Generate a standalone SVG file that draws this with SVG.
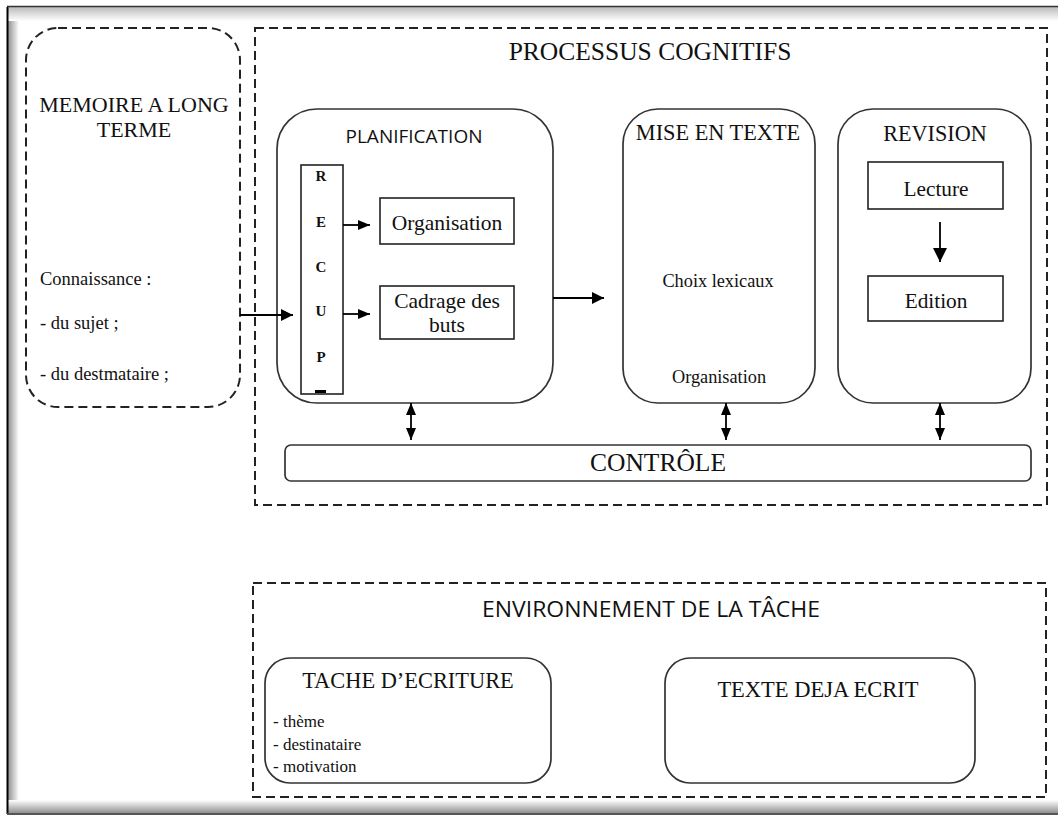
<svg xmlns="http://www.w3.org/2000/svg" width="1058" height="817" viewBox="0 0 1058 817">
<defs>
<linearGradient id="gl" x1="0" x2="1" y1="0" y2="0"><stop offset="0" stop-color="#888"/><stop offset="1" stop-color="#fff"/></linearGradient>
<linearGradient id="gt" x1="0" x2="0" y1="0" y2="1"><stop offset="0" stop-color="#bbb"/><stop offset="1" stop-color="#fff"/></linearGradient>
<linearGradient id="gb" x1="0" x2="0" y1="1" y2="0"><stop offset="0" stop-color="#888"/><stop offset="1" stop-color="#fff"/></linearGradient>
<marker id="ah" viewBox="0 0 12 12" refX="12" refY="6" markerWidth="13" markerHeight="12" markerUnits="userSpaceOnUse" orient="auto-start-reverse"><path d="M0,0 L12,6 L0,12 z" fill="#000"/></marker>
<marker id="ah2" viewBox="0 0 12 10" refX="12" refY="5" markerWidth="12" markerHeight="10" markerUnits="userSpaceOnUse" orient="auto-start-reverse"><path d="M0,0 L12,5 L0,10 z" fill="#000"/></marker>
<marker id="ah3" viewBox="0 0 14 14" refX="14" refY="7" markerWidth="15" markerHeight="14" markerUnits="userSpaceOnUse" orient="auto-start-reverse"><path d="M0,0 L14,7 L0,14 z" fill="#000"/></marker>
</defs>
<style>
.serif{font-family:'Liberation Serif','DejaVu Serif',serif;fill:#111}
.sans{font-family:'Open Sans','Liberation Sans',sans-serif;fill:#111}
.dash{fill:none;stroke:#222;stroke-width:2;stroke-dasharray:9 5}
.box{fill:#fff;stroke:#333;stroke-width:1.7}
.sq{fill:#fff;stroke:#222;stroke-width:1.6}
.ln{stroke:#000;stroke-width:1.8;fill:none}
</style>
<rect x="0" y="0" width="1058" height="817" fill="#fff"/>
<!-- frame -->
<rect x="7" y="7" width="12" height="807" fill="url(#gl)"/>
<rect x="7" y="7" width="1051" height="14" fill="url(#gt)"/>
<rect x="7" y="800" width="1051" height="14" fill="url(#gb)"/>
<rect x="19" y="21" width="1039" height="779" fill="#fff"/>
<line x1="7.5" y1="7" x2="7.5" y2="814" stroke="#000" stroke-width="2"/>
<line x1="7" y1="6.5" x2="1058" y2="6.5" stroke="#333" stroke-width="1.5"/>
<line x1="7" y1="814" x2="1058" y2="814" stroke="#555" stroke-width="2"/>

<g id="memoire">
<rect class="dash" x="26" y="28" width="214" height="379" rx="32"/>
<text class="serif" x="134" y="112" font-size="22" text-anchor="middle">MEMOIRE A LONG</text>
<text class="serif" x="134" y="137" font-size="22" text-anchor="middle">TERME</text>
<text class="serif" x="40" y="285" font-size="18.5">Connaissance :</text>
<text class="serif" x="40" y="329" font-size="18.5">- du sujet ;</text>
<text class="serif" x="40" y="380" font-size="18.5">- du destmataire ;</text>
</g>

<g id="processus">
<rect class="dash" x="255" y="28" width="792" height="477"/>
<text class="serif" x="650" y="60" font-size="25.5" text-anchor="middle">PROCESSUS COGNITIFS</text>
</g>

<g id="planification">
<rect class="box" x="277" y="109" width="276" height="294" rx="40"/>
<text class="sans" x="414" y="143" font-size="18" text-anchor="middle" textLength="137" lengthAdjust="spacingAndGlyphs">PLANIFICATION</text>
</g>
<g id="recup">
<rect class="sq" x="301" y="165" width="42" height="229"/>
<g class="serif" font-size="15" font-weight="bold" text-anchor="middle">
<text x="321" y="181">R</text>
<text x="321" y="227">E</text>
<text x="321" y="272">C</text>
<text x="321" y="316">U</text>
<text x="321" y="362">P</text>
</g>
<rect x="315" y="390" width="11" height="3" fill="#000"/>
</g>
<g id="organisation">
<rect class="sq" x="380" y="198" width="134" height="46"/>
<text class="serif" x="447" y="230" font-size="21.5" text-anchor="middle">Organisation</text>
</g>
<g id="cadrage">
<rect class="sq" x="380" y="286" width="134" height="53"/>
<text class="serif" x="447" y="308" font-size="21.5" text-anchor="middle">Cadrage des</text>
<text class="serif" x="447" y="332" font-size="21.5" text-anchor="middle">buts</text>
</g>

<g id="mise-en-texte">
<rect class="box" x="623" y="109" width="192" height="294" rx="35"/>
<text class="serif" x="718" y="140" font-size="22.3" text-anchor="middle">MISE EN TEXTE</text>
<text class="serif" x="718" y="287" font-size="18.3" text-anchor="middle">Choix lexicaux</text>
<text class="serif" x="719" y="383" font-size="18.3" text-anchor="middle">Organisation</text>
</g>

<g id="revision">
<rect class="box" x="838" y="109" width="193" height="294" rx="35"/>
<text class="serif" x="935" y="141" font-size="22.2" text-anchor="middle">REVISION</text>
</g>
<g id="lecture">
<rect class="sq" x="868" y="162" width="135" height="47"/>
<text class="serif" x="936" y="196" font-size="21.3" text-anchor="middle">Lecture</text>
</g>
<g id="edition">
<rect class="sq" x="868" y="276" width="135" height="45"/>
<text class="serif" x="936" y="308" font-size="21.3" text-anchor="middle">Edition</text>
</g>

<g id="controle">
<rect class="box" x="285" y="445" width="746" height="36" rx="6"/>
<text class="serif" x="658" y="471" font-size="25.5" text-anchor="middle">CONTRÔLE</text>
</g>

<g id="environnement">
<rect class="dash" x="253" y="583" width="793" height="214"/>
<text class="sans" x="651" y="617" font-size="22" text-anchor="middle" textLength="338" lengthAdjust="spacingAndGlyphs">ENVIRONNEMENT DE LA TÂCHE</text>
</g>
<g id="tache">
<rect class="box" x="265" y="658" width="286" height="125" rx="25"/>
<text class="serif" x="408" y="688" font-size="22.4" text-anchor="middle">TACHE D’ECRITURE</text>
<text class="serif" x="273" y="727" font-size="17">- thème</text>
<text class="serif" x="273" y="750" font-size="17">- destinataire</text>
<text class="serif" x="273" y="772" font-size="17">- motivation</text>
</g>
<g id="texte-deja-ecrit">
<rect class="box" x="665" y="658" width="310" height="125" rx="25"/>
<text class="serif" x="818" y="697" font-size="22.5" text-anchor="middle">TEXTE DEJA ECRIT</text>
</g>

<g id="connectors">
<line class="ln" x1="240" y1="315" x2="293" y2="315" marker-end="url(#ah)"/>
<line class="ln" x1="343" y1="225" x2="370" y2="225" marker-end="url(#ah2)"/>
<line class="ln" x1="343" y1="314" x2="370" y2="314" marker-end="url(#ah2)"/>
<line class="ln" x1="553" y1="298" x2="604" y2="298" marker-end="url(#ah)"/>
<line class="ln" x1="940" y1="222" x2="940" y2="262" marker-end="url(#ah3)"/>
<line class="ln" x1="411" y1="403" x2="411" y2="440" marker-start="url(#ah2)" marker-end="url(#ah2)"/>
<line class="ln" x1="726" y1="403" x2="726" y2="440" marker-start="url(#ah2)" marker-end="url(#ah2)"/>
<line class="ln" x1="940" y1="403" x2="940" y2="440" marker-start="url(#ah2)" marker-end="url(#ah2)"/>
</g>
</svg>
